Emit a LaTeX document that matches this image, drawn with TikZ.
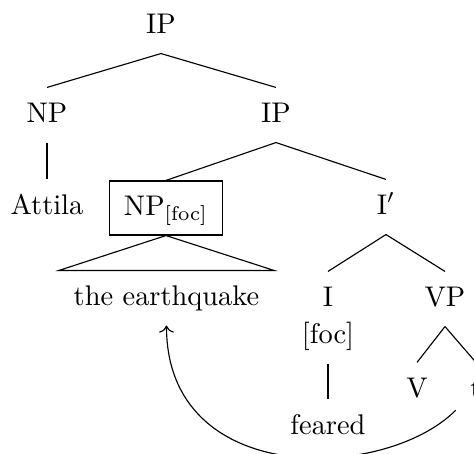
\documentclass[tikz,border=0pt]{standalone}
\usepackage{amsmath}
\usepackage{tikz}
\usetikzlibrary{arrows.meta, positioning}

\begin{document}
\begin{tikzpicture}[x=0.352pt, y=-0.352pt,
    cat/.style={inner sep=5pt, text height=7pt, text depth=2pt},
    focbox/.style={cat, draw}]
    % Frame of the figure (right and bottom edge are cut)
    \useasboundingbox (0,0) rectangle (474,454);

    % Tree nodes
    \node[cat] (ip)     at (161, 26)  {IP};
    \node[cat] (np)     at (47, 115)  {NP};
    \node[cat] (ipb)    at (276, 115) {IP};
    \node[cat] (attila) at (47, 207)  {Attila};
    \node[focbox] (npfoc) at (166, 208) {NP$_{\mathrm{[foc]}}$};
    \node[cat] (ibar)   at (386, 207) {I$'$};
    \node[cat] (the)    at (166.5, 298) {the earthquake};
    \node[cat] (i)      at (328, 299) {I};
    \node[cat] (ifoc)   at (328, 336) {[foc]};
    \node[cat] (vp)     at (445, 299) {VP};
    \node[cat] (feared) at (328, 427) {feared};
    \node[cat] (v)      at (417, 390) {V};
    \node[cat] (t)      at (476, 390) {t};

    % Branches
    \draw (ip.south) -- (np.north);
    \draw (ip.south) -- (ipb.north);
    \draw (np.south) -- (attila.north);
    \draw (ipb.south) -- (npfoc.north);
    \draw (ipb.south) -- (ibar.north);
    \draw (ibar.south) -- (i.north);
    \draw (ibar.south) -- (vp.north);
    \draw (ifoc.south) -- (feared.north);
    \draw (vp.south) -- (v.north);
    \draw (vp.south) -- (t.north);

    % Roof over the focused NP
    \draw (npfoc.south) -- (the.north west) -- (the.north east) -- cycle;

    % Movement arrow from the trace
    \draw[->] (t) .. controls +(225:1.6cm) and +(270:2.35cm) .. (the);
\end{tikzpicture}
\end{document}
